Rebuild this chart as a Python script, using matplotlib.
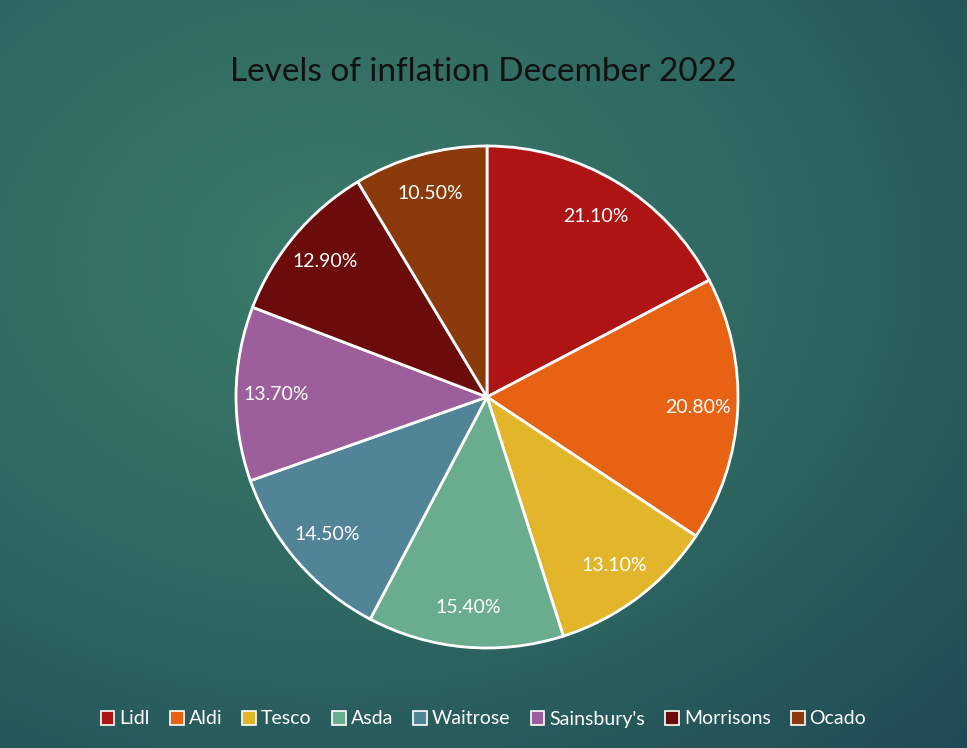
import matplotlib.pyplot as plt
import numpy as np
from matplotlib.colors import LinearSegmentedColormap

# data
stores = ['Lidl', 'Aldi', 'Tesco', 'Asda', 'Waitrose', "Sainsbury's", 'Morrisons', 'Ocado']
inflation = [21.1, 20.8, 13.1, 15.4, 14.5, 13.7, 12.9, 10.5]
colors = ['#AF1414', '#E86214', '#E3B52A', '#6AAC8E', '#528498', '#9C5F9C', '#6B0B0B', '#8B3A0B']

plt.rcParams['font.family'] = ['Lato', 'DejaVu Sans']

fig = plt.figure(figsize=(9.67, 7.48), dpi=100)

# radial gradient background
bg = fig.add_axes([0, 0, 1, 1])
yy, xx = np.mgrid[0:748, 0:967]
d = np.sqrt(((xx - 330) / 967) ** 2 + ((yy - 260) / 748) ** 2)
d = d / d.max()
cmap = LinearSegmentedColormap.from_list('bg', ['#3b7a6b', '#2f6862', '#1f4a55'])
bg.imshow(d, cmap=cmap, aspect='auto', extent=[0, 1, 0, 1], origin='upper')
bg.axis('off')

ax = fig.add_axes([0, 0, 1, 1])
ax.patch.set_visible(False)

total = sum(inflation)
wedges, texts, autotexts = ax.pie(
    inflation, colors=colors, startangle=90, counterclock=False,
    center=(487, 748 - 397), radius=251, frame=True,
    autopct=lambda p: f'{p * total / 100:.2f}%', pctdistance=0.84,
    wedgeprops={'edgecolor': 'white', 'linewidth': 2},
    textprops={'color': 'white', 'fontsize': 14})
ax.set_xlim(0, 967)
ax.set_ylim(0, 748)
ax.set_aspect('equal')
ax.axis('off')

fig.text(0.5, 1 - 72 / 748, 'Levels of inflation December 2022', ha='center', va='center',
         fontsize=24, color='#111111')

leg = fig.legend(wedges, stores, loc='center', bbox_to_anchor=(0.5, 1 - 719 / 748), ncol=8,
                 frameon=False, fontsize=14, labelcolor='white', handlelength=0.7,
                 handleheight=0.7, handletextpad=0.25, columnspacing=1.05)
for h in leg.legend_handles:
    h.set_edgecolor('white')
    h.set_linewidth(1.2)

fig.savefig('out.png', dpi=100)
